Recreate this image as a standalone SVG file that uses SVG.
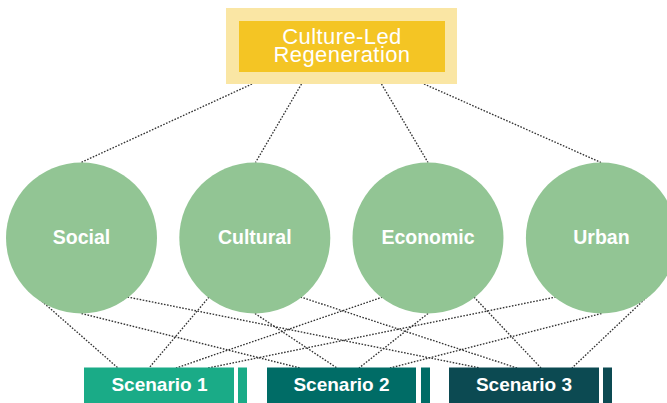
<svg xmlns="http://www.w3.org/2000/svg" width="667" height="403" viewBox="0 0 667 403">
  <style>
    .link { fill: none; stroke: #333333; stroke-width: 1.35; stroke-dasharray: 1.6 1.5; }
    .pillar { fill: #92c594; }
    .pillar-label { font-family: "Liberation Sans", Arial, sans-serif; font-weight: bold; font-size: 19.5px; fill: #ffffff; text-anchor: middle; }
    .goal-label { font-family: "Liberation Sans", Arial, sans-serif; font-size: 22px; letter-spacing: 0.4px; fill: #ffffff; text-anchor: middle; }
    .scenario-label { font-family: "Liberation Sans", Arial, sans-serif; font-weight: bold; font-size: 19px; fill: #ffffff; text-anchor: middle; }
  </style>

  <rect width="667" height="403" fill="#ffffff"/>

  <!-- dotted connectors -->
  <g id="connectors">
    <!-- goal to pillars -->
    <line class="link" x1="252" y1="84" x2="81" y2="162.5"/>
    <line class="link" x1="301.5" y1="84" x2="255.5" y2="162.5"/>
    <line class="link" x1="381.5" y1="84" x2="428" y2="162.5"/>
    <line class="link" x1="424" y1="84" x2="601" y2="162.5"/>
    <!-- pillars to Scenario 1 -->
    <line class="link" x1="37" y1="297" x2="118" y2="368"/>
    <line class="link" x1="209" y1="297" x2="149" y2="368"/>
    <line class="link" x1="382.5" y1="297" x2="176" y2="368"/>
    <line class="link" x1="556" y1="297" x2="208" y2="368"/>
    <!-- pillars to Scenario 2 -->
    <line class="link" x1="81.5" y1="313.5" x2="300" y2="368"/>
    <line class="link" x1="255" y1="313.5" x2="337" y2="368"/>
    <line class="link" x1="428" y1="313.5" x2="359" y2="368"/>
    <line class="link" x1="601.5" y1="313.5" x2="390" y2="368"/>
    <!-- pillars to Scenario 3 -->
    <line class="link" x1="127.5" y1="297" x2="480" y2="368"/>
    <line class="link" x1="300.5" y1="297" x2="517" y2="368"/>
    <line class="link" x1="474" y1="297" x2="541" y2="368"/>
    <line class="link" x1="647" y1="297" x2="572" y2="368"/>
  </g>

  <!-- top goal -->
  <g id="goal">
    <rect x="226" y="8" width="231" height="76" fill="#fae6a4"/>
    <rect x="239" y="21" width="206" height="51" fill="#f4c524"/>
    <text class="goal-label" x="342" y="43.5">Culture-Led<tspan x="342" dy="18.5">Regeneration</tspan></text>
  </g>

  <!-- pillars -->
  <g id="pillar-social">
    <circle class="pillar" cx="81.5" cy="238" r="75.5"/>
    <text class="pillar-label" x="81.5" y="243.5">Social</text>
  </g>
  <g id="pillar-cultural">
    <circle class="pillar" cx="254.8" cy="238" r="75.5"/>
    <text class="pillar-label" x="254.8" y="243.5">Cultural</text>
  </g>
  <g id="pillar-economic">
    <circle class="pillar" cx="428" cy="238" r="75.5"/>
    <text class="pillar-label" x="428" y="243.5">Economic</text>
  </g>
  <g id="pillar-urban">
    <circle class="pillar" cx="601.4" cy="238" r="75.5"/>
    <text class="pillar-label" x="601.4" y="243.5">Urban</text>
  </g>

  <!-- scenarios -->
  <g id="scenario-1">
    <rect x="84" y="367.5" width="150" height="40" fill="#1aab87"/>
    <rect x="238" y="367.5" width="9" height="40" fill="#1aab87"/>
    <text class="scenario-label" x="159.5" y="390.5">Scenario 1</text>
  </g>
  <g id="scenario-2">
    <rect x="267" y="367.5" width="149" height="40" fill="#006c66"/>
    <rect x="421" y="367.5" width="9" height="40" fill="#006c66"/>
    <text class="scenario-label" x="341.5" y="390.5">Scenario 2</text>
  </g>
  <g id="scenario-3">
    <rect x="449" y="367.5" width="150" height="40" fill="#0c4a52"/>
    <rect x="603" y="367.5" width="9" height="40" fill="#0c4a52"/>
    <text class="scenario-label" x="524" y="390.5">Scenario 3</text>
  </g>
</svg>
